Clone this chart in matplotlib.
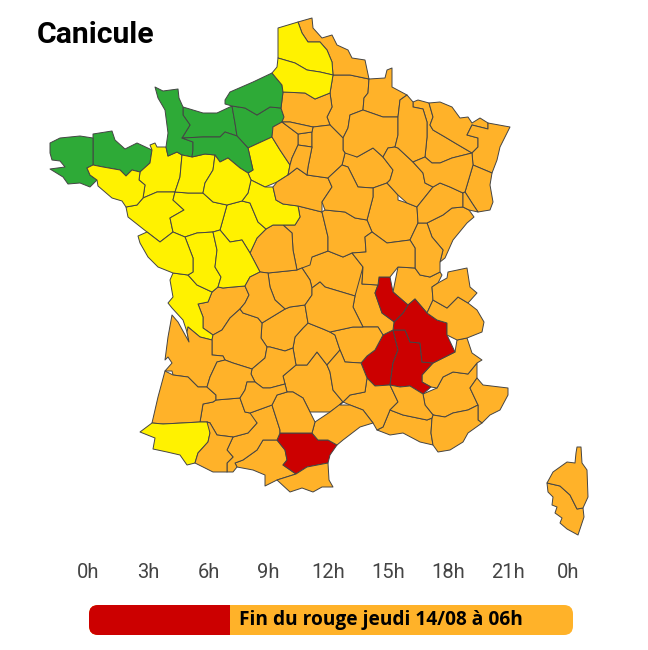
import math
import matplotlib
matplotlib.use('Agg')
import matplotlib.pyplot as plt
from matplotlib.patches import FancyBboxPatch, Rectangle

# department outlines (image pixels)
DEPTS = {
    '01': [(393,292),(398,267),(415,268),(420,275),(430,277),(440,272),(442,275),(438,283),(432,287),(433,300),(427,313),(415,299),(408,305)],
    '02': [(333,75),(350,75),(369,79),(368,93),(364,98),(363,110),(350,115),(348,128),(343,138),(330,125),(327,117),(332,107),(330,93)],
    '03': [(302,268),(312,257),(328,251),(343,257),(352,253),(363,267),(362,284),(355,296),(325,287),(320,282),(312,288),(310,280)],
    '04': [(423,394),(437,388),(443,377),(453,372),(468,374),(477,363),(477,378),(470,388),(478,405),(468,410),(453,413),(445,417),(433,415),(425,405)],
    '05': [(422,375),(433,363),(455,352),(457,340),(467,338),(472,353),(482,360),(477,363),(468,374),(453,372),(443,377),(437,388),(431,387),(422,382)],
    '06': [(477,378),(483,385),(508,388),(508,395),(500,410),(490,415),(482,423),(478,420),(478,405),(470,388)],
    '07': [(383,335),(393,330),(398,350),(393,363),(390,385),(375,386),(367,378),(361,363),(367,356),(375,350)],
    '08': [(369,79),(385,78),(387,70),(392,68),(392,87),(407,95),(400,100),(398,117),(383,117),(363,109),(364,98),(368,93)],
    '09': [(243,460),(257,450),(263,440),(277,440),(285,450),(287,460),(283,465),(296,474),(277,480),(265,486),(265,475),(253,470),(237,467),(235,463)],
    '10': [(343,150),(357,157),(373,148),(383,157),(393,170),(390,180),(387,183),(373,188),(358,187),(348,167),(342,165),(345,153)],
    '11': [(280,433),(290,433),(312,433),(318,440),(328,440),(337,445),(330,455),(328,463),(307,467),(296,474),(283,465),(287,460),(285,450),(277,440)],
    '12': [(283,376),(296,365),(307,365),(317,352),(327,365),(330,372),(333,390),(343,402),(330,412),(310,412),(303,398),(293,392),(287,392),(285,384)],
    '13': [(383,427),(390,410),(403,415),(427,420),(432,418),(431,433),(433,445),(420,442),(403,433),(390,435),(377,430)],
    '14': [(183,107),(203,113),(217,113),(232,106),(235,123),(237,136),(225,132),(220,137),(203,137),(182,138),(190,125),(183,115)],
    '15': [(303,328),(308,323),(323,329),(330,332),(335,335),(340,350),(327,365),(317,352),(307,365),(296,365),(293,348),(295,337)],
    '16': [(212,292),(223,288),(233,287),(245,286),(249,295),(245,303),(230,318),(222,330),(213,335),(203,328),(203,317),(198,304),(208,302)],
    '17': [(173,273),(188,275),(197,285),(212,292),(208,302),(198,304),(203,317),(203,328),(213,335),(212,340),(200,337),(188,327),(189,342),(187,332),(183,320),(172,308),(168,303),(173,297),(170,280)],
    '18': [(298,206),(322,212),(328,237),(328,250),(312,257),(310,265),(300,268),(297,270),(293,250),(292,233),(283,225),(295,225),(300,217)],
    '19': [(285,309),(290,307),(305,305),(308,323),(303,328),(295,337),(293,348),(285,351),(270,347),(267,347),(261,338),(262,323)],
    '21': [(373,188),(388,185),(398,200),(407,203),(417,207),(418,223),(410,240),(387,243),(372,232),(367,220),(373,197)],
    '22': [(93,138),(93,134),(112,131),(115,140),(125,149),(137,143),(152,150),(150,163),(140,172),(132,170),(126,176),(120,170),(103,167),(93,165),(93,153)],
    '23': [(268,273),(297,270),(302,268),(310,280),(312,288),(312,295),(305,305),(290,307),(285,309),(275,300),(270,287)],
    '24': [(213,340),(215,333),(222,330),(230,318),(240,309),(243,313),(258,318),(262,323),(261,338),(267,350),(265,358),(252,369),(233,363),(225,360),(223,356),(212,355)],
    '25': [(427,223),(443,215),(452,208),(463,207),(469,210),(474,217),(467,223),(453,240),(445,258),(440,262),(443,250),(432,237)],
    '26': [(394,330),(405,330),(410,342),(420,343),(422,362),(433,363),(422,375),(422,382),(431,387),(423,394),(410,386),(400,387),(390,385),(393,363),(398,350)],
    '27': [(232,106),(245,108),(257,115),(270,107),(281,108),(284,117),(273,127),(272,137),(248,148),(237,136),(235,123)],
    '28': [(248,148),(272,137),(280,150),(290,165),(288,175),(277,182),(265,187),(251,180),(248,173),(253,170)],
    '29': [(50,143),(60,138),(80,136),(93,138),(93,153),(93,165),(87,168),(90,175),(97,180),(90,187),(80,183),(68,184),(63,177),(50,169),(65,167),(60,161),(52,160),(50,153)],
    '2A': [(547,483),(560,486),(570,495),(577,509),(583,508),(584,517),(582,523),(578,535),(567,529),(560,523),(562,518),(555,513),(557,507),(552,505),(553,497),(548,492)],
    '2B': [(577,447),(581,447),(582,463),(587,470),(588,497),(583,508),(577,509),(570,495),(560,486),(547,483),(553,472),(567,462),(575,463),(576,453)],
    '30': [(375,386),(390,385),(398,402),(390,410),(383,427),(375,430),(373,423),(363,410),(350,405),(340,405),(343,402),(350,395),(365,392),(367,378)],
    '31': [(245,412),(250,413),(272,405),(280,430),(277,440),(263,440),(257,450),(243,460),(235,463),(233,472),(227,472),(227,463),(233,457),(227,450),(233,437),(248,433),(257,423)],
    '32': [(203,404),(213,402),(216,400),(240,398),(245,412),(257,423),(248,433),(233,437),(217,435),(210,423),(207,422),(200,422)],
    '33': [(172,315),(178,322),(186,340),(189,342),(188,327),(200,337),(213,340),(212,355),(223,356),(225,360),(217,362),(210,377),(207,387),(198,387),(188,377),(173,375),(172,371),(165,371),(172,363),(168,357),(165,360),(168,337)],
    '34': [(330,412),(343,402),(340,405),(350,405),(363,410),(373,423),(360,427),(343,440),(337,445),(328,440),(318,440),(312,433),(315,422)],
    '35': [(150,145),(155,143),(157,147),(166,147),(168,156),(177,152),(182,155),(180,177),(175,192),(157,192),(143,198),(145,185),(139,180),(140,172),(150,163),(152,150)],
    '36': [(250,253),(266,229),(273,225),(283,225),(292,233),(293,250),(297,270),(268,273),(260,272)],
    '37': [(227,205),(242,201),(250,203),(258,222),(266,229),(257,238),(250,253),(242,240),(230,242),(220,230)],
    '38': [(408,305),(415,299),(427,313),(437,320),(447,323),(447,335),(455,352),(433,363),(422,362),(420,343),(410,342),(405,330),(394,330),(394,322),(403,313)],
    '39': [(418,223),(427,225),(432,237),(443,250),(440,262),(442,272),(432,278),(418,276),(415,267),(415,248),(410,240)],
    '40': [(163,372),(173,375),(188,377),(198,387),(207,387),(216,395),(216,400),(213,402),(203,404),(200,422),(182,423),(163,424),(152,423),(158,397)],
    '41': [(251,180),(265,187),(273,187),(276,200),(283,204),(298,206),(300,217),(295,225),(283,225),(273,225),(266,229),(258,222),(250,203),(242,201),(248,193)],
    '42': [(363,267),(362,284),(378,285),(375,293),(382,313),(393,321),(394,330),(383,333),(378,327),(363,327),(353,307),(355,296)],
    '43': [(330,332),(353,327),(363,327),(378,327),(383,333),(383,335),(375,350),(367,356),(361,363),(345,362),(340,350),(335,335)],
    '44': [(143,198),(157,192),(175,192),(173,200),(184,210),(170,218),(173,232),(160,242),(147,232),(128,217),(126,207),(137,205)],
    '45': [(277,182),(288,176),(297,168),(307,175),(328,178),(332,187),(322,202),(325,210),(322,212),(298,206),(283,204),(276,200),(273,187)],
    '46': [(267,347),(270,347),(285,351),(293,348),(296,365),(283,376),(285,384),(270,388),(263,388),(255,382),(251,374),(265,358)],
    '47': [(217,362),(225,360),(233,363),(252,369),(251,375),(253,382),(247,382),(245,390),(240,398),(216,400),(216,395),(207,387),(210,377)],
    '48': [(340,350),(345,362),(361,363),(367,378),(365,392),(350,395),(343,402),(333,390),(330,372),(327,365)],
    '49': [(175,192),(188,193),(203,193),(213,202),(227,205),(220,230),(213,232),(197,233),(185,237),(173,232),(170,218),(184,210),(173,200)],
    '50': [(155,87),(163,91),(178,89),(179,98),(183,107),(183,115),(190,125),(182,138),(193,142),(193,150),(192,157),(182,155),(177,152),(168,156),(166,147),(168,133),(165,110),(158,98)],
    '51': [(350,115),(363,109),(383,117),(398,117),(398,135),(395,147),(388,148),(383,157),(373,148),(357,157),(343,150),(343,138),(348,128)],
    '52': [(383,157),(388,148),(395,147),(398,148),(413,162),(423,173),(425,183),(433,187),(417,207),(407,203),(398,195),(387,183),(390,180),(393,170)],
    '53': [(182,155),(192,157),(205,154),(215,155),(213,170),(205,183),(203,193),(188,193),(175,192),(180,177)],
    '54': [(413,102),(418,100),(429,103),(433,117),(430,125),(433,130),(445,137),(455,143),(472,153),(452,158),(440,163),(432,163),(425,157),(427,137),(427,122),(423,109),(413,107)],
    '55': [(400,100),(407,95),(413,102),(413,107),(423,109),(427,122),(427,137),(425,157),(413,162),(398,148),(395,147),(398,135),(398,117)],
    '56': [(87,168),(93,165),(103,167),(120,170),(126,176),(132,170),(140,172),(139,180),(145,185),(143,198),(137,205),(128,205),(122,201),(112,198),(98,186),(97,180),(90,175)],
    '57': [(429,103),(440,102),(452,107),(460,118),(468,117),(472,123),(480,118),(488,123),(488,129),(472,125),(467,135),(478,138),(478,147),(472,153),(455,143),(445,137),(433,130),(430,125),(433,117)],
    '58': [(322,212),(325,210),(345,212),(355,218),(367,220),(372,232),(365,237),(366,252),(352,253),(343,257),(328,251),(328,237)],
    '59': [(298,22),(312,18),(313,28),(322,38),(332,35),(337,45),(348,50),(352,58),(365,60),(369,79),(350,75),(333,75),(332,62),(327,50),(320,42),(308,42),(302,33)],
    '60': [(283,92),(305,93),(315,99),(330,93),(332,107),(327,117),(330,125),(313,127),(290,122),(282,122),(285,110)],
    '61': [(182,138),(203,137),(220,137),(225,132),(237,136),(248,148),(253,170),(248,173),(240,168),(228,158),(220,162),(215,155),(205,154),(192,157),(193,150),(193,142)],
    '62': [(278,28),(298,22),(302,33),(308,42),(320,42),(327,50),(332,62),(333,75),(320,72),(307,70),(295,63),(278,58)],
    '63': [(312,288),(320,282),(325,287),(355,296),(353,307),(363,327),(353,327),(330,332),(323,329),(308,323),(305,305),(312,295)],
    '64': [(152,423),(163,424),(182,423),(200,422),(207,422),(210,433),(208,442),(198,453),(195,463),(187,465),(180,455),(167,452),(153,449),(155,438),(140,432)],
    '65': [(207,422),(210,423),(217,435),(233,437),(227,450),(233,457),(227,463),(227,472),(213,472),(197,463),(198,453),(208,442),(210,433)],
    '66': [(296,474),(307,467),(328,463),(329,480),(333,487),(322,487),(313,492),(302,488),(290,492),(277,480)],
    '67': [(488,123),(510,127),(500,147),(497,160),(492,173),(473,165),(472,153),(478,147),(478,138),(467,135),(472,125),(488,129)],
    '68': [(473,165),(492,173),(490,185),(493,202),(490,210),(478,212),(472,203),(465,192)],
    '69': [(379,277),(390,277),(393,292),(408,305),(403,313),(394,322),(393,321),(382,313),(375,293),(378,285)],
    '70': [(433,187),(440,183),(450,187),(463,193),(463,207),(452,208),(443,215),(427,223),(418,223),(417,207)],
    '71': [(372,232),(387,243),(410,240),(415,248),(415,267),(398,267),(393,277),(379,277),(378,285),(362,284),(363,267),(352,253),(366,252),(365,237)],
    '72': [(215,155),(220,162),(228,158),(240,168),(248,173),(251,180),(248,193),(242,201),(227,205),(213,202),(203,193),(205,183),(213,170)],
    '73': [(427,313),(433,300),(447,308),(458,297),(468,303),(477,310),(484,322),(482,332),(467,338),(457,340),(447,335),(447,323),(437,320)],
    '74': [(433,300),(432,287),(440,283),(447,278),(448,272),(467,268),(470,287),(477,293),(468,303),(458,297),(447,308)],
    '75': [(298,134),(312,132),(312,147),(298,145)],
    '76': [(225,100),(230,92),(253,82),(272,73),(282,85),(283,92),(281,108),(270,107),(257,115),(245,108),(232,106),(225,104)],
    '77': [(330,125),(343,138),(343,150),(345,153),(342,165),(328,178),(307,175),(308,167),(312,147),(312,132),(313,127)],
    '78': [(273,127),(282,122),(298,134),(298,145),(292,158),(290,165),(280,150),(272,137)],
    '79': [(185,237),(197,233),(213,232),(217,250),(215,267),(221,277),(218,287),(212,292),(197,285),(188,275),(193,272),(193,258)],
    '80': [(278,58),(295,63),(307,70),(320,72),(333,75),(330,93),(315,99),(305,93),(283,92),(282,82),(273,70),(277,67)],
    '81': [(272,405),(277,395),(287,392),(293,392),(303,398),(310,412),(315,422),(312,433),(290,433),(280,433),(280,430)],
    '82': [(247,382),(253,382),(263,388),(270,388),(285,384),(287,392),(277,395),(272,405),(250,413),(245,412),(240,398),(245,390)],
    '83': [(433,415),(445,417),(453,413),(468,410),(478,405),(478,420),(482,423),(468,433),(463,442),(450,450),(438,452),(433,445),(431,433),(432,418)],
    '84': [(390,385),(400,387),(410,386),(423,394),(425,405),(433,415),(427,420),(403,415),(390,410),(398,402)],
    '85': [(173,232),(185,237),(193,258),(193,272),(173,273),(158,267),(148,257),(140,243),(138,236),(147,232),(160,242)],
    '86': [(213,232),(220,230),(230,242),(242,240),(250,253),(260,272),(250,277),(245,286),(233,287),(223,288),(218,287),(221,277),(215,267),(217,250)],
    '87': [(245,286),(250,277),(260,272),(268,273),(270,287),(275,300),(285,309),(262,323),(258,318),(243,313),(240,309),(249,295)],
    '88': [(413,162),(425,157),(432,163),(440,163),(452,158),(472,153),(473,165),(465,192),(463,193),(450,187),(440,183),(433,187),(425,183),(423,173)],
    '89': [(342,165),(348,167),(358,187),(373,188),(373,197),(367,220),(355,218),(345,212),(325,210),(322,202),(332,187),(328,178)],
    '90': [(463,193),(465,192),(472,203),(478,212),(469,210),(463,207)],
    '91': [(298,145),(312,147),(308,167),(307,175),(297,168),(288,176),(290,165),(292,158)],
    '95': [(282,122),(290,122),(313,127),(312,132),(298,134)],
}

RED = ['11', '26', '07', '38', '69']
GREEN = ['29', '22', '50', '14', '61', '76', '27']
YELLOW = ['56', '35', '53', '72', '28', '41', '37', '49', '44', '85', '79', '86', '17', '64', '62', '80']

HOURS = [0, 3, 6, 9, 12, 15, 18, 21, 24]
HOUR_LABELS = ['0h', '3h', '6h', '9h', '12h', '15h', '18h', '21h', '0h']
RED_END_HOUR = 7.07
BAR_TEXT = 'Fin du rouge jeudi 14/08 à 06h'

COL_RED = '#CC0000'
COL_GREEN = '#2EAA37'
COL_YELLOW = '#FFF200'
COL_ORANGE = '#FFB229'


def dept_color(code):
    if code in RED:
        return COL_RED
    if code in GREEN:
        return COL_GREEN
    if code in YELLOW:
        return COL_YELLOW
    return COL_ORANGE


def hour_px(h):
    return 88.5 + h * 20.0


def dist_to_seg(p, a, b):
    dx, dy = b[0] - a[0], b[1] - a[1]
    t = ((p[0] - a[0]) * dx + (p[1] - a[1]) * dy) / (dx * dx + dy * dy + 1e-9)
    q = (a[0] + t * dx, a[1] + t * dy)
    return t, math.hypot(p[0] - q[0], p[1] - q[1])


def clean_borders(depts, tol=4.5):
    # hand-read borders do not quite line up: snap near vertices together, then
    # add a neighbour's vertex to any edge passing next to it, so no slivers show
    canon = []
    snapped = {}
    for code, pts in depts.items():
        used = []
        out = []
        for p in pts:
            best = None
            for c in canon:
                d = math.dist(p, c)
                if d < tol and c not in used and (best is None or d < math.dist(p, best)):
                    best = c
            if best is None:
                best = p
                canon.append(p)
            used.append(best)
            out.append(best)
        snapped[code] = out

    result = {}
    for code, pts in snapped.items():
        out = []
        for i, a in enumerate(pts):
            b = pts[(i + 1) % len(pts)]
            out.append(a)
            extra = []
            for c in canon:
                if c in pts:
                    continue
                t, d = dist_to_seg(c, a, b)
                if 0.02 < t < 0.98 and d < 3.0:
                    extra.append((t, c))
            out.extend(c for t, c in sorted(extra))
        result[code] = out
    return result


fig = plt.figure(figsize=(6.48, 6.50), dpi=100)
ax = fig.add_axes([0, 0, 1, 1])
ax.set_xlim(0, 648)
ax.set_ylim(650, 0)
ax.axis('off')

for code, pts in clean_borders(DEPTS).items():
    xs = [p[0] for p in pts]
    ys = [p[1] for p in pts]
    ax.fill(xs, ys, facecolor=dept_color(code), edgecolor='#444444', linewidth=0.7, joinstyle='round')

ax.text(37, 35, 'Canicule', fontsize=21.7, fontweight='bold', family='Roboto', color='black', va='center', ha='left')

for h, lab in zip(HOURS, HOUR_LABELS):
    ax.text(hour_px(h), 573, lab, fontsize=14.5, family='Roboto', color='#444444', va='center', ha='center')

# timeline bar
bar = FancyBboxPatch((89, 605), 484, 30, boxstyle='round,pad=0,rounding_size=9', facecolor=COL_ORANGE, edgecolor='none')
ax.add_patch(bar)
red_part = Rectangle((89, 605), hour_px(RED_END_HOUR) - 89, 30, facecolor=COL_RED, edgecolor='none')
ax.add_patch(red_part)
red_part.set_clip_path(bar)
ax.text(239, 620, BAR_TEXT, fontsize=13.8, fontweight='bold', family='Open Sans', color='black', va='center', ha='left')

fig.savefig('out.png', dpi=100)
